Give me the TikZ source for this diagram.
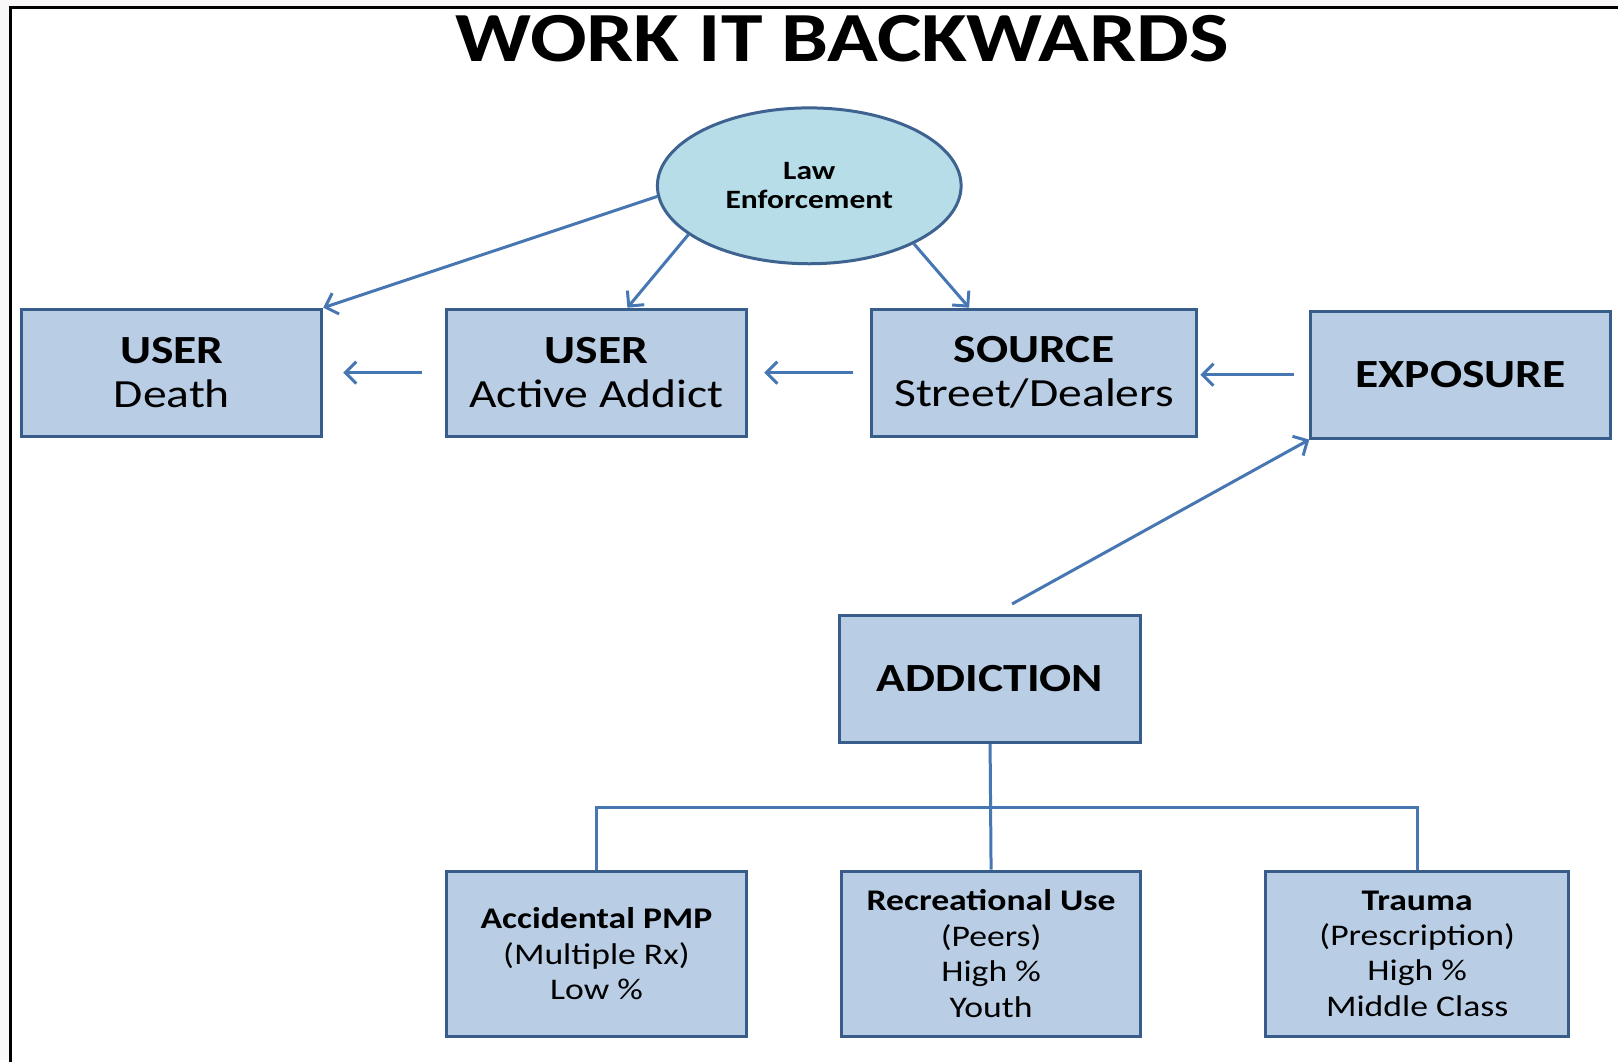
\documentclass[tikz,border=0pt]{standalone}
\usepackage{fontspec}
\setmainfont[FakeStretch=1.19]{Carlito}
\usetikzlibrary{arrows.meta,shapes.geometric}

\definecolor{boxfill}{HTML}{B9CDE5}
\definecolor{boxline}{HTML}{385D8A}
\definecolor{ovalfill}{HTML}{B7DEE8}
\definecolor{ovalline}{HTML}{3E6391}
\definecolor{linkcol}{HTML}{4677B3}
\definecolor{pagebg}{HTML}{F9F7F7}

\tikzset{
  box/.style={draw=boxline, fill=boxfill, line width=3pt, rectangle,
    inner sep=0pt, align=center, text=black},
  bigbox/.style={box, minimum height=127pt,
    font=\fontsize{40}{44}\selectfont},
  smallbox/.style={box, minimum height=165pt, minimum width=300pt,
    font=\fontsize{30}{35.5}\selectfont},
  oval/.style={ellipse, draw=ovalline, fill=ovalfill, line width=3pt,
    minimum width=304pt, minimum height=156pt, inner sep=0pt,
    align=center, font=\bfseries\fontsize{26.5}{29}\selectfont},
  link/.style={draw=linkcol, line width=3pt},
  flow/.style={link, -{Straight Barb[length=11pt,width=22pt,line width=3pt]}},
}

\begin{document}
\begin{tikzpicture}[x=1pt, y=-1pt]
  % page and frame
  \fill[pagebg] (0,0) rectangle (1618,1061);
  \fill[white] (11,8) rectangle (1618,1061);
  \draw[line width=3pt, line cap=rect] (11,1061) -- (11,8) -- (1618,8);
  \useasboundingbox (0,0) rectangle (1618,1061);

  % title
  \node[anchor=base, inner sep=0pt, font=\bfseries\fontsize{70.5}{70}\selectfont]
    (title) at (843,62) {WORK IT BACKWARDS};

  % top row
  \node[oval] (law) at (810,186) {Law\\Enforcement};
  \node[bigbox, minimum width=300pt] (death) at (172,373)
    {\textbf{USER}\\Death};
  \node[bigbox, minimum width=300pt] (active) at (597,373)
    {\textbf{USER}\\Active Addict};
  \node[bigbox, minimum width=326pt] (source) at (1035,373)
    {\textbf{SOURCE}\\Street/Dealers};
  \node[bigbox, minimum width=300pt] (exposure) at (1462,375)
    {\textbf{EXPOSURE}};

  % middle
  \node[bigbox, minimum width=302pt] (addiction) at (991,679.5)
    {\textbf{ADDICTION}};

  % bottom row
  \node[smallbox] (acc) at (597,954.5)
    {\textbf{Accidental PMP}\\(Multiple Rx)\\Low \%};
  \node[smallbox] (rec) at (992,954.5)
    {\textbf{Recreational Use}\\(Peers)\\High \%\\Youth};
  \node[smallbox, minimum width=303pt] (trauma) at (1418.5,954.5)
    {\textbf{Trauma}\\(Prescription)\\High \%\\Middle Class};

  % arrows from law enforcement
  \draw[flow] (law.184) -- (death.north east);
  \draw[flow] (law.202) -- ([xshift=31pt]active.north);
  \draw[flow] (law.331) -- ([xshift=-65pt]source.north);

  % chain of arrows along the top row
  \draw[flow, shorten <=23pt, shorten >=20pt] (active.west) -- (death.east);
  \draw[flow, shorten <=16.5pt, shorten >=16.5pt] (source.west) -- (active.east);
  \draw[flow, shorten <=15.5pt, shorten >=2pt]
    (exposure.west) -- (exposure.west -| source.east);

  % addiction leads to exposure
  \draw[flow] ([shift={(22,-10)}]addiction.north) -- (exposure.south west);

  % tree below addiction
  \coordinate (bus) at ([yshift=-64pt]addiction.south);
  \draw[link] (addiction.south) -- (rec.north);
  \draw[link] (acc.north) |- (bus) -| (trauma.north);
\end{tikzpicture}
\end{document}
